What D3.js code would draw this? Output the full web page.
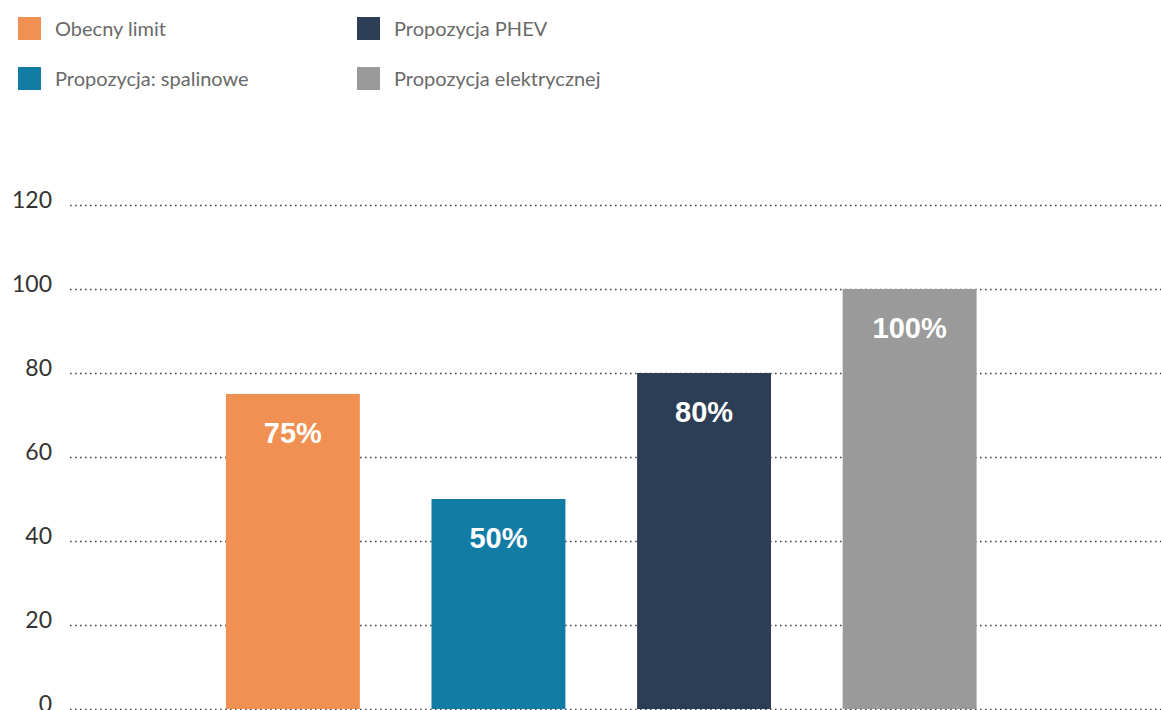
<!DOCTYPE html>
<html>
<head>
<meta charset="utf-8">
<script src="https://cdn.jsdelivr.net/npm/d3@7"></script>
<style>
  html, body { margin: 0; padding: 0; background: #fff; overflow: hidden; }
  svg { display: block; }
</style>
</head>
<body>
<svg id="chart" width="1161" height="710"></svg>
<script>
const categories = ['Obecny limit', 'Propozycja: spalinowe', 'Propozycja PHEV', 'Propozycja elektrycznej'];
const values = [75, 50, 80, 100];
const valueLabels = ['75%', '50%', '80%', '100%'];
const colors = ['#f09052', '#137ca5', '#2c3e55', '#9a9a9a'];
const yTicks = [0, 20, 40, 60, 80, 100, 120];

const width = 1161, height = 710;
const svg = d3.select('#chart');

// step ~205.7px, bar 134px, first bar at x=226
const x = d3.scaleBand()
  .domain(categories)
  .range([70, 1132.5])
  .paddingInner(0.3486)
  .paddingOuter(0.7584);

const y = d3.scaleLinear()
  .domain([0, 120])
  .range([709, 205]);

const color = d3.scaleOrdinal().domain(categories).range(colors);

// gridlines + y labels
const yAxis = d3.axisLeft(y)
  .tickValues(yTicks)
  .tickSize(-(width - 70))
  .tickPadding(18)
  .tickFormat(d3.format('d'));

const gy = svg.append('g')
  .attr('transform', 'translate(70,0)')
  .call(yAxis);
gy.select('.domain').remove();
gy.selectAll('.tick line')
  .attr('stroke', '#444')
  .attr('stroke-width', 1.4)
  .attr('stroke-dasharray', '1.6,3.4');
gy.selectAll('.tick text')
  .attr('font-family', 'Lato, "Open Sans", sans-serif')
  .attr('font-size', 23)
  .attr('fill', '#333')
  .attr('dy', '0.12em');

// bars
svg.append('g')
  .selectAll('rect')
  .data(values)
  .join('rect')
  .attr('x', (d, i) => x(categories[i]))
  .attr('y', d => y(d))
  .attr('width', x.bandwidth())
  .attr('height', d => y(0) - y(d))
  .attr('fill', (d, i) => color(categories[i]));

svg.append('g')
  .selectAll('text')
  .data(values)
  .join('text')
  .attr('x', (d, i) => x(categories[i]) + x.bandwidth() / 2)
  .attr('y', d => y(d) + 49)
  .attr('text-anchor', 'middle')
  .attr('font-family', '"Liberation Sans", Arial, sans-serif')
  .attr('font-weight', 'bold')
  .attr('font-size', 29)
  .attr('fill', '#fff')
  .text((d, i) => valueLabels[i]);

// legend, filled column by column
const legend = svg.append('g')
  .selectAll('g')
  .data(categories)
  .join('g')
  .attr('transform', (d, i) => `translate(${18 + Math.floor(i / 2) * 339},${17 + (i % 2) * 50})`);

legend.append('rect')
  .attr('width', 23)
  .attr('height', 23)
  .attr('fill', d => color(d));

legend.append('text')
  .attr('x', 37)
  .attr('y', 18.5)
  .attr('font-family', 'Lato, "Open Sans", sans-serif')
  .attr('font-size', 20)
  .attr('fill', '#6a6a6a')
  .text(d => d);
</script>
</body>
</html>
